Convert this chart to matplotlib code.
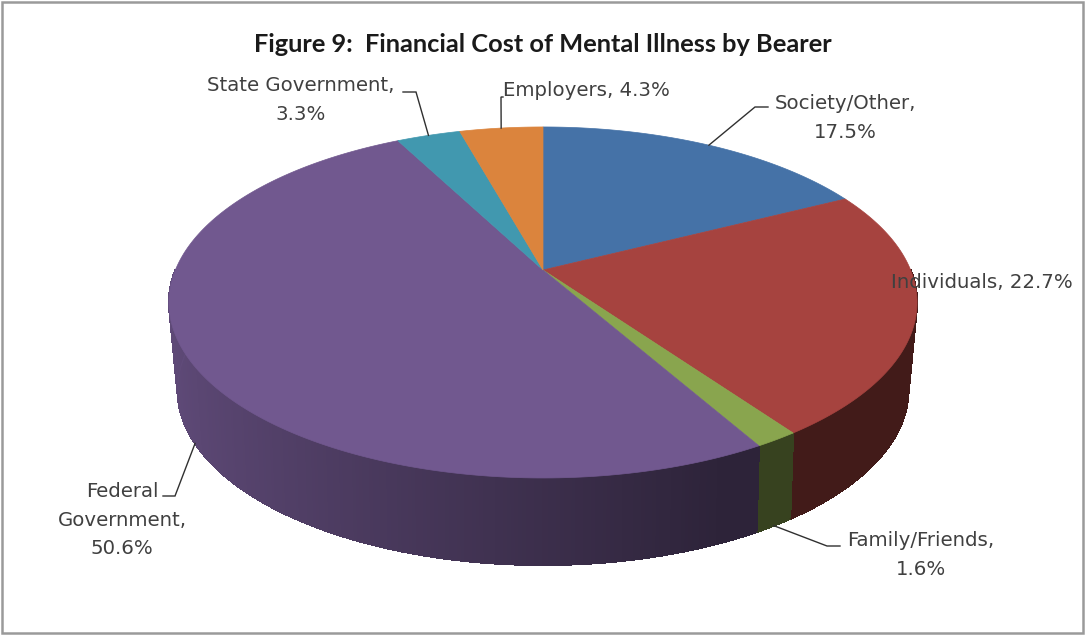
import numpy as np
import matplotlib
matplotlib.use("Agg")
import matplotlib.pyplot as plt
from matplotlib.collections import LineCollection, PolyCollection
from matplotlib.colors import to_rgb
from matplotlib.patches import Polygon, Rectangle

plt.rcParams['font.family'] = ['DejaVu Sans']

# porciones en sentido horario desde las 12
categories = ["Society/Other", "Individuals", "Family/Friends",
              "Federal Government", "State Government", "Employers"]
shares = [17.5, 22.7, 1.6, 50.6, 3.3, 4.3]
colors = ['#4572A7', '#A6433F', '#89A54E', '#71588F', '#4198AF', '#DB843D']
labels = ["Society/Other,\n17.5%", "Individuals, 22.7%", "Family/Friends,\n1.6%",
          "Federal\nGovernment,\n50.6%", "State Government,\n3.3%", "Employers, 4.3%"]

# centro y proyeccion en perspectiva de la cara superior e inferior
CX = 543
TOP = dict(y0=270, a=367.6, b=169.5, k=0.185)
BOTTOM = dict(y0=355, a=358.0, b=168.0, k=0.20)


def project(theta, plane):
    # theta en radianes, horario desde arriba
    u, v = np.sin(theta), np.cos(theta)
    w = 1 + plane['k'] * v
    return CX + plane['a'] * u / w, plane['y0'] - plane['b'] * v / w


def side_shade(theta):
    # el costado se oscurece de izquierda a derecha
    t = np.clip((np.sin(theta) + 1) / 1.4, 0, 1)
    return 0.85 - 0.45 * t


fig = plt.figure(figsize=(10.85, 6.35), dpi=100)
ax = fig.add_axes([0, 0, 1, 1])
ax.set_xlim(0, 1085)
ax.set_ylim(635, 0)
ax.axis('off')

ax.add_patch(Rectangle((1.5, 1.5), 1081.5, 631.5, fill=False, ec='#9a9a9a', lw=1.8))

edges = np.radians(np.cumsum([0] + shares) * 3.6)

# costados: tiras sin suavizado y un borde suavizado sobre la silueta
quads, quad_colors, rim_segs, depth = [], [], [], []
for start, end, color in zip(edges[:-1], edges[1:], colors):
    base = np.array(to_rgb(color))
    steps = max(int(np.degrees(end - start) * 2), 2)
    ts = np.linspace(start, end, steps + 1)
    for t0, t1 in zip(ts[:-1], ts[1:]):
        x0, y0 = project(t0, TOP)
        x1, y1 = project(t1, TOP)
        x2, y2 = project(t1, BOTTOM)
        x3, y3 = project(t0, BOTTOM)
        quads.append(((x0, y0), (x1, y1), (x2, y2), (x3, y3)))
        rim_segs.append(((x3, y3), (x2, y2)))
        quad_colors.append(tuple(base * side_shade((t0 + t1) / 2)))
        depth.append(np.cos((t0 + t1) / 2))

order = np.argsort(-np.array(depth))
front = [i for i in order if depth[i] < 0]
ax.add_collection(PolyCollection([quads[i] for i in front],
                                 facecolors=[quad_colors[i] for i in front],
                                 edgecolors=[quad_colors[i] for i in front],
                                 linewidths=0.8, antialiased=False, zorder=1))
ax.add_collection(LineCollection([rim_segs[i] for i in front],
                                 colors=[quad_colors[i] for i in front],
                                 linewidths=0.9, capstyle='round', zorder=1))

# tapa
for start, end, color in zip(edges[:-1], edges[1:], colors):
    ts = np.linspace(start, end, 200)
    xs, ys = project(ts, TOP)
    pts = np.column_stack([np.r_[CX, xs], np.r_[TOP['y0'], ys]])
    ax.add_patch(Polygon(pts, closed=True, fc=color, ec=color, lw=0.5, zorder=1))

mids = (edges[:-1] + edges[1:]) / 2

# posicion del texto y quiebres de cada linea guia
label_pos = [(845, 118), (982, 283), (921, 555), (122, 520), (301, 100), (586, 90)]
leader_plane = [TOP, None, BOTTOM, BOTTOM, TOP, TOP]
leader_knots = [[(755, 107), (768, 107)], None, [(827, 546), (840, 546)],
                [(175, 496), (163, 496)], [(416, 92), (403, 92)], [(501, 97), (503, 97)]]

for mid, label, pos, plane, knots in zip(mids, labels, label_pos, leader_plane, leader_knots):
    ax.text(pos[0], pos[1], label, ha='center', va='center', fontsize=14.2,
            color='#404040', linespacing=1.65)
    if plane is not None:
        sx, sy = project(mid, plane)
        xs = [sx] + [k[0] for k in knots]
        ys = [sy] + [k[1] for k in knots]
        ax.plot(xs, ys, color='#303030', lw=1.0, solid_joinstyle='miter')

ax.text(543, 45, "Figure 9:  Financial Cost of Mental Illness by Bearer", ha='center', va='center',
        fontsize=18.3, fontweight='bold', family='Lato', color='#1a1a1a')

fig.savefig("out.png", dpi=100)
